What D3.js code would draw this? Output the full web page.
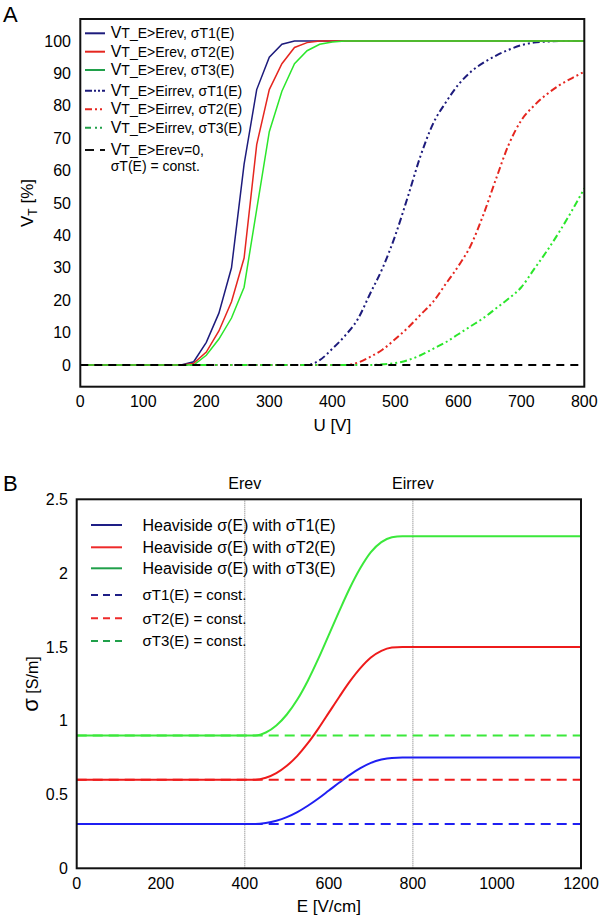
<!DOCTYPE html>
<html><head><meta charset="utf-8">
<script src="https://cdn.jsdelivr.net/npm/d3@7"></script>
<style>body{margin:0;background:#fff}text{font-family:"Liberation Sans",Arial,sans-serif}</style>
</head><body><svg id="c" width="600" height="917"></svg>
<script>
// ---------- Panel A data ----------
const uA = [0,20,40,60,80,100,120,140,160,180,200,220,240,260,280,300,320,340,360,380,400,420,440,460,480,500,520,540,560,580,600,620,640,660,680,700,720,740,760,780,800];
const vRev1 = [0,0,0,0,0,0,0,0,0,1,7,16,30,62,85,95,99,100,100,100,100,100,100,100,100,100,100,100,100,100,100,100,100,100,100,100,100,100,100,100,100];
const vRev2 = [0,0,0,0,0,0,0,0,0,0.5,4,10.5,19.5,33,68,85,93,98,99.5,100,100,100,100,100,100,100,100,100,100,100,100,100,100,100,100,100,100,100,100,100,100];
const vRev3 = [0,0,0,0,0,0,0,0,0,0,3,8,14.5,24,48,72,84.5,93,97,99,99.7,100,100,100,100,100,100,100,100,100,100,100,100,100,100,100,100,100,100,100,100];
const vIrr1 = [0,0,0,0,0,0,0,0,0,0,0,0,0,0,0,0,0,0,0,1.5,5,9,14,22,30,40,52,64.5,74.5,81,86.5,90.5,93.3,95.5,97.3,98.7,99.5,99.8,100,100,100];
const vIrr2 = [0,0,0,0,0,0,0,0,0,0,0,0,0,0,0,0,0,0,0,0,0,0,0.7,2.5,4.8,8,11.5,15.5,19.5,25,30.5,37,46.5,57.5,68,75.5,80,83.5,86.3,88.5,90.5];
const vIrr3 = [0,0,0,0,0,0,0,0,0,0,0,0,0,0,0,0,0,0,0,0,0,0,0,0,0.2,0.6,1.5,3,5,7,9.5,12,14.5,17.5,20.5,24,29.5,35,41,47.5,54.5];
const uConst = [0,800];
const vConst = [0,0];
const xTicksA = [0,100,200,300,400,500,600,700,800];
const yTicksA = [0,10,20,30,40,50,60,70,80,90,100];
const legendA = ["T_E>Erev, σT1(E)","T_E>Erev, σT2(E)","T_E>Erev, σT3(E)","T_E>Eirrev, σT1(E)","T_E>Eirrev, σT2(E)","T_E>Eirrev, σT3(E)","T_E>Erev=0,"];

// ---------- Panel B data ----------
const eB = [0,400,425,450,475,500,525,550,575,600,625,650,675,700,725,750,775,1200];
const sigH1 = [0.3,0.3,0.3,0.307,0.3225,0.347,0.381,0.424,0.473,0.527,0.581,0.633,0.678,0.714,0.7365,0.748,0.75,0.75];
const sigH2 = [0.6,0.6,0.6,0.6135,0.645,0.6945,0.762,0.8475,0.9465,1.0545,1.1625,1.266,1.356,1.428,1.473,1.4955,1.5,1.5];
const sigH3 = [0.9,0.9,0.9,0.92,0.9675,1.042,1.143,1.271,1.42,1.582,1.744,1.899,2.034,2.142,2.2095,2.243,2.25,2.25];
const eConst = [0,1200];
const sigC = [0.3,0.6,0.9];
const xTicksB = [0,200,400,600,800,1000,1200];
const yTicksB = [0,0.5,1,1.5,2,2.5];
const yTickLabelsB = ["0","0.5","1","1.5","2","2.5"];
const markersB = [400,800];
const markerLabelsB = ["Erev","Eirrev"];
const legendB = ["Heaviside σ(E) with σT1(E)","Heaviside σ(E) with σT2(E)","Heaviside σ(E) with σT3(E)","σT1(E) = const.","σT2(E) = const.","σT3(E) = const."];

const svg = d3.select("#c");
const FONT = 16;

// ================= Panel A =================
const A = {l:80.3, r:584.3, t:19, b:386.7};
const xA = d3.scaleLinear().domain([0,800]).range([A.l, A.r]);
const yA = d3.scaleLinear().domain([0,100]).range([365, 41]);

const gA = svg.append("g");
const navy = "#1d1b7c", redA = "#e5261f", greenA = "#2be62b";
const dashDot = "7,3,2,3,2,3";

const lineA = d3.line().x(d=>xA(d[0])).y(d=>yA(d[1]));
const lineAs = d3.line().x(d=>xA(d[0])).y(d=>yA(d[1])).curve(d3.curveMonotoneX);
function zipA(v){ return uA.map((u,i)=>[u,v[i]]); }

const seriesA = [
  {v:vIrr1, c:navy, dash:dashDot, w:2, smooth:true},
  {v:vIrr2, c:redA, dash:dashDot, w:2, smooth:true},
  {v:vIrr3, c:greenA, dash:dashDot, w:2, smooth:true},
  {v:vRev1, c:navy, dash:null, w:1.5},
  {v:vRev2, c:redA, dash:null, w:1.5},
  {v:vRev3, c:greenA, dash:null, w:1.5}
];
seriesA.forEach(s=>{
  gA.append("path").attr("d",(s.smooth?lineAs:lineA)(zipA(s.v)))
    .attr("fill","none").attr("stroke",s.c).attr("stroke-width",s.w)
    .attr("stroke-dasharray",s.dash);
});
gA.append("path").attr("d",lineA(uConst.map((u,i)=>[u,vConst[i]])))
  .attr("fill","none").attr("stroke","#000").attr("stroke-width",2).attr("stroke-dasharray","8,6");

gA.append("rect").attr("x",A.l).attr("y",A.t).attr("width",A.r-A.l).attr("height",A.b-A.t)
  .attr("fill","none").attr("stroke","#111").attr("stroke-width",2);

gA.selectAll(".ya").data(yTicksA).enter().append("text")
  .attr("x",71).attr("y",d=>yA(d)).attr("dy","0.35em").attr("text-anchor","end")
  .attr("font-size",FONT).text(d=>d);
gA.selectAll(".xa").data(xTicksA).enter().append("text")
  .attr("x",d=>xA(d)).attr("y",401).attr("dy","0.35em").attr("text-anchor","middle")
  .attr("font-size",FONT).text(d=>d);
gA.append("text").attr("x",(A.l+A.r)/2).attr("y",425).attr("dy","0.35em")
  .attr("text-anchor","middle").attr("font-size",17).text("U [V]");
const yt = gA.append("text").attr("transform","translate(33,203) rotate(-90)")
  .attr("text-anchor","middle").attr("font-size",17);
yt.append("tspan").text("V");
yt.append("tspan").attr("font-size",12).attr("dy",4).text("T");
yt.append("tspan").attr("dy",-4).text(" [%]");
svg.append("text").attr("x",3).attr("y",14).attr("dy","0.35em").attr("font-size",22).text("A");

// Legend A
const legA = [
  {c:navy, dash:null, y:33.3}, {c:redA, dash:null, y:51.7}, {c:"#20a04a", dash:null, y:70},
  {c:navy, dash:"7,2,2,2,2,2", y:90.7}, {c:redA, dash:"7,3,2,3,2,3", y:109.3}, {c:"#20a04a", dash:"6,4,2,3,2,3", y:127.7},
  {c:"#111", dash:"9,6", y:150}
];
legA.forEach((d,i)=>{
  gA.append("line").attr("x1",85).attr("x2",105).attr("y1",d.y).attr("y2",d.y)
    .attr("stroke",d.c).attr("stroke-width",2).attr("stroke-dasharray",d.dash);
  const t = gA.append("text").attr("x",110.7).attr("y",d.y).attr("dy","0.35em").attr("font-size",14);
  t.append("tspan").attr("font-size",16).text("V");
  t.append("tspan").text(legendA[i]);
});
gA.append("text").attr("x",110.7).attr("y",166).attr("dy","0.35em").attr("font-size",14).text("σT(E) = const.");

// ================= Panel B =================
const B = {l:76.7, r:581, t:499.3, b:868.3};
const xB = d3.scaleLinear().domain([0,1200]).range([B.l, B.r]);
const yB = d3.scaleLinear().domain([0,2.5]).range([B.b, B.t]);
const gB = svg.append("g");
const blueB = "#1f1ff2", redB = "#ee1b1b", greenB = "#3be83b";

markersB.forEach((m,i)=>{
  gB.append("line").attr("x1",xB(m)).attr("x2",xB(m)).attr("y1",B.t).attr("y2",B.b)
    .attr("stroke","#777").attr("stroke-width",1).attr("stroke-dasharray","1,1");
  gB.append("text").attr("x",xB(m)).attr("y",483).attr("dy","0.35em").attr("text-anchor","middle")
    .attr("font-size",16).text(markerLabelsB[i]);
});

const lineB = d3.line().x(d=>xB(d[0])).y(d=>yB(d[1])).curve(d3.curveMonotoneX);
[[sigH1,blueB],[sigH2,redB],[sigH3,greenB]].forEach(([v,c])=>{
  gB.append("path").attr("d",lineB(eB.map((e,i)=>[e,v[i]]))).attr("fill","none")
    .attr("stroke",c).attr("stroke-width",2);
});
sigC.forEach((s,i)=>{
  gB.append("path").attr("d",d3.line().x(d=>xB(d[0])).y(d=>yB(d[1]))(eConst.map(e=>[e,s])))
    .attr("fill","none").attr("stroke",[blueB,redB,greenB][i]).attr("stroke-width",2)
    .attr("stroke-dasharray","10,6");
});

gB.append("rect").attr("x",B.l).attr("y",B.t).attr("width",B.r-B.l).attr("height",B.b-B.t)
  .attr("fill","none").attr("stroke","#111").attr("stroke-width",2);

gB.selectAll(".yb").data(yTicksB).enter().append("text")
  .attr("x",68).attr("y",d=>yB(d)).attr("dy","0.35em").attr("text-anchor","end")
  .attr("font-size",FONT).text((d,i)=>yTickLabelsB[i]);
gB.selectAll(".xb").data(xTicksB).enter().append("text")
  .attr("x",d=>xB(d)).attr("y",883).attr("dy","0.35em").attr("text-anchor","middle")
  .attr("font-size",FONT).text(d=>d);
gB.append("text").attr("x",(B.l+B.r)/2).attr("y",906.5).attr("dy","0.35em")
  .attr("text-anchor","middle").attr("font-size",17).text("E [V/cm]");
const ytb = gB.append("text").attr("transform","translate(38,684) rotate(-90)")
  .attr("text-anchor","middle").attr("font-size",16);
ytb.append("tspan").attr("font-size",22).text("σ");
ytb.append("tspan").text(" [S/m]");
svg.append("text").attr("x",3).attr("y",483).attr("dy","0.35em").attr("font-size",22).text("B");

const legBc = ["#1e1e86","#ee2a2a","#20a04a"];
const legBy = [525,547.3,568.3,595,618.3,641];
legendB.forEach((t,i)=>{
  gB.append("line").attr("x1",91).attr("x2",122).attr("y1",legBy[i]).attr("y2",legBy[i])
    .attr("stroke",legBc[i%3]).attr("stroke-width",2).attr("stroke-dasharray",i<3?null:"7,5");
  gB.append("text").attr("x",142.5).attr("y",legBy[i]).attr("dy","0.35em")
    .attr("font-size",i<3?16:15).text(t);
});
</script></body></html>
